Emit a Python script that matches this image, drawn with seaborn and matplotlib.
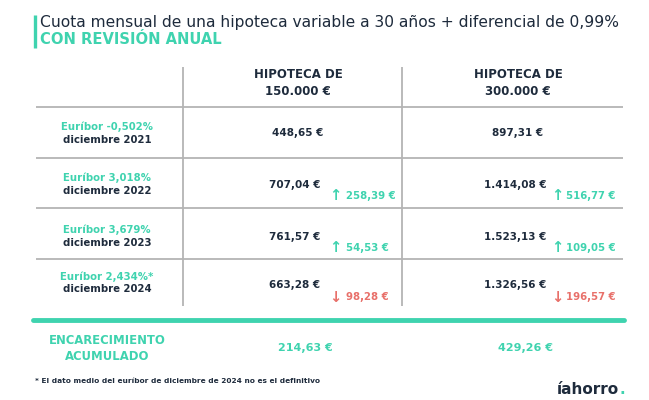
import matplotlib
matplotlib.use("Agg")
import matplotlib.pyplot as plt
import seaborn as sns

# Data
titulo = "Cuota mensual de una hipoteca variable a 30 años + diferencial de 0,99%"
subtitulo = "CON REVISIÓN ANUAL"
cabeceras = ["HIPOTECA DE\n150.000 €", "HIPOTECA DE\n300.000 €"]
euribor = ["Euríbor -0,502%", "Euríbor 3,018%", "Euríbor 3,679%", "Euríbor 2,434%*"]
fechas = ["diciembre 2021", "diciembre 2022", "diciembre 2023", "diciembre 2024"]
cuota_150 = [448.65, 707.04, 761.57, 663.28]
cuota_300 = [897.31, 1414.08, 1523.13, 1326.56]
var_150 = [None, 258.39, 54.53, -98.28]
var_300 = [None, 516.77, 109.05, -196.57]
acumulado = [214.63, 429.26]
nota = "* El dato medio del euríbor de diciembre de 2024 no es el definitivo"

NAVY = "#1E2B3C"
GREEN = "#3FD3AF"
RED = "#E8706A"
GREY = "#B4B4B4"


def eur(v):
    # spanish format: 1.414,08 €
    s = f"{abs(v):,.2f}".replace(",", "X").replace(".", ",").replace("X", ".")
    return s + " €"


sns.set_theme(style="white")
plt.rcParams['font.family'] = ['DejaVu Sans']

fig = plt.figure(figsize=(6.49, 4.0), dpi=100)
ax = fig.add_axes([0, 0, 1, 1])
ax.set_xlim(0, 649)
ax.set_ylim(400, 0)
ax.axis("off")

# title block
ax.plot([34.5, 34.5], [15, 48], color=GREEN, lw=2.4, solid_capstyle="butt")
ax.text(40, 22, titulo, color=NAVY, fontsize=11.2, va="center", ha="left")
ax.text(40, 39.5, subtitulo, color=GREEN, fontsize=10.6, fontweight="bold",
        va="center", ha="left")

# table grid
row_edges = [107, 158, 208, 259]
ax.hlines(row_edges, 36, 623, color=GREY, lw=1.3)
ax.vlines([183, 402], 67, 306, color=GREY, lw=1.3)
ax.plot([33, 624], [319.5, 319.5], color=GREEN, lw=3.5, solid_capstyle="round")

col_x = [298, 518]
for cx, h in zip(col_x, cabeceras):
    ax.text(cx, 83, h, color=NAVY, fontsize=8.5, fontweight="bold",
            ha="center", va="center", linespacing=1.45)

label_y = [133.5, 184.5, 236, 283]
value_y = [133, 185.5, 236.5, 285]
change_y = [None, 196, 248, 297.5]
arrow_x = [335, 557]
text_x = [346, 566]

for i in range(len(fechas)):
    ax.text(107, label_y[i] - 6.5, euribor[i], color=GREEN, fontsize=7.3,
            fontweight="bold", ha="center", va="center")
    ax.text(107, label_y[i] + 6.5, fechas[i], color=NAVY, fontsize=7.3,
            fontweight="bold", ha="center", va="center")
    for j, (cuotas, vars_) in enumerate([(cuota_150, var_150), (cuota_300, var_300)]):
        cx = col_x[j] if vars_[i] is None else col_x[j] - 3
        ax.text(cx, value_y[i], eur(cuotas[i]), color=NAVY, fontsize=7.5,
                fontweight="bold", ha="center", va="center")
        if vars_[i] is not None:
            up = vars_[i] > 0
            c = GREEN if up else RED
            ax.text(arrow_x[j], change_y[i], "↑" if up else "↓", color=c,
                    fontsize=10.5, fontweight="bold", ha="center", va="center")
            ax.text(text_x[j], change_y[i], eur(vars_[i]), color=c, fontsize=7.3,
                    fontweight="bold", ha="left", va="center")

# accumulated row
ax.text(107, 348.5, "ENCARECIMIENTO\nACUMULADO", color=GREEN, fontsize=8.4,
        fontweight="bold", ha="center", va="center", linespacing=1.35)
ax.text(305, 348, eur(acumulado[0]), color=GREEN, fontsize=8,
        fontweight="bold", ha="center", va="center")
ax.text(525, 348, eur(acumulado[1]), color=GREEN, fontsize=8,
        fontweight="bold", ha="center", va="center")

ax.text(35, 381, nota, color=NAVY, fontsize=5.3, fontweight="bold",
        ha="left", va="center")

# logo
ax.text(619, 389, "íahorro", color=NAVY, fontsize=11, fontweight="bold",
        ha="right", va="center")
ax.text(619.5, 389, ".", color=GREEN, fontsize=11, fontweight="bold",
        ha="left", va="center")

fig.savefig("out.png", dpi=100)
